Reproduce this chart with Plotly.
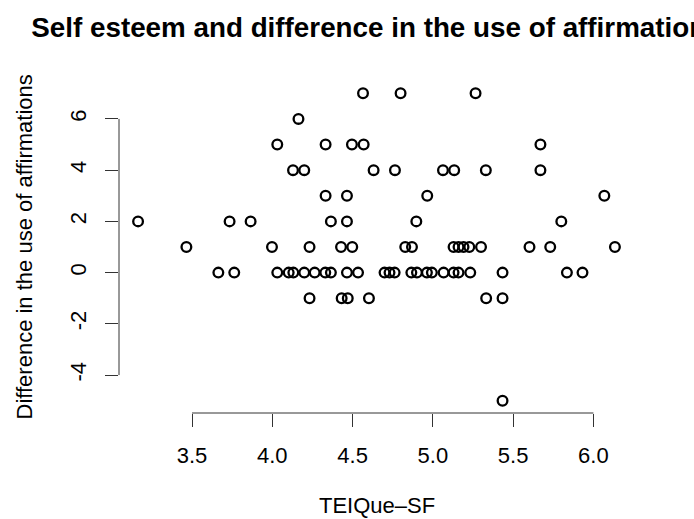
import plotly.graph_objects as go

# Data (TEIQue-SF score vs difference in affirmations)
diff_7 = [4.565, 4.799, 5.266]
diff_6 = [4.163]
diff_5 = [4.031, 4.332, 4.496, 4.569, 5.670]
diff_4 = [4.129, 4.199, 4.631, 4.764, 5.063, 5.133, 5.330, 5.670]
diff_3 = [4.332, 4.465, 4.965, 6.068]
diff_2 = [3.164, 3.734, 3.865, 4.365, 4.465, 4.897, 5.800]
diff_1 = [3.465, 3.998, 4.232, 4.428, 4.498, 4.828, 4.870, 5.129, 5.160,
          5.191, 5.227, 5.300, 5.602, 5.731, 6.134]
diff_0 = [3.664, 3.763, 4.031, 4.102, 4.131, 4.199, 4.264, 4.330, 4.365,
          4.465, 4.534, 4.699, 4.730, 4.762, 4.866, 4.901, 4.963, 4.994,
          5.067, 5.129, 5.160, 5.233, 5.434, 5.835, 5.932]
diff_m1 = [4.232, 4.432, 4.470, 4.602, 5.332, 5.434]
diff_m5 = [5.434]

groups = [(7, diff_7), (6, diff_6), (5, diff_5), (4, diff_4), (3, diff_3),
          (2, diff_2), (1, diff_1), (0, diff_0), (-1, diff_m1), (-5, diff_m5)]

teique = []
difference = []
for yv, xs in groups:
    for xv in xs:
        teique.append(xv)
        difference.append(yv)

x_ticks = [3.5, 4.0, 4.5, 5.0, 5.5, 6.0]
x_ticktext = ["3.5", "4.0", "4.5", "5.0", "5.5", "6.0"]
y_ticks = [-4, -2, 0, 2, 4, 6]
y_ticktext = ["-4", "-2", "0", "2", "4", "6"]

title_text = "Self esteem and difference in the use of affirmations"
xlab = "TEIQue\u2013SF"
ylab = "Difference in the use of affirmations"

# R-style 4% axis padding
xmin, xmax = min(teique), max(teique)
ymin, ymax = min(difference), max(difference)
xpad = 0.04 * (xmax - xmin)
ypad = 0.04 * (ymax - ymin)

FONT = "Liberation Sans, Arial, Helvetica, sans-serif"
AXC = "#333333"

fig = go.Figure()
fig.add_trace(go.Scatter(
    x=teique, y=difference, mode="markers",
    marker=dict(symbol="circle-open", size=9.7, color="black",
                line=dict(width=2.3, color="black")),
    showlegend=False, hoverinfo="x+y",
))

fig.update_layout(
    width=694, height=519,
    margin=dict(l=118.5, r=60.2, t=81.2, b=106, autoexpand=False),
    paper_bgcolor="white", plot_bgcolor="white",
    font=dict(family=FONT, color="black", size=22),
    title=dict(text="<b>" + title_text + "</b>", x=0.5, xref="paper",
               xanchor="center", y=1 - 27 / 519, yref="container",
               yanchor="middle", font=dict(size=27.8, family=FONT, color="black")),
    xaxis=dict(range=[xmin - xpad, xmax + xpad], showgrid=False, zeroline=False,
               showline=False, ticks="outside", ticklen=13, tickwidth=1,
               tickcolor=AXC, tickvals=x_ticks, ticktext=x_ticktext,
               ticklabelstandoff=10,
               tickfont=dict(size=22, family=FONT, color="black")),
    yaxis=dict(range=[ymin - ypad, ymax + ypad], showgrid=False, zeroline=False,
               showline=False, ticks="outside", ticklen=13, tickwidth=1,
               tickcolor=AXC, tickvals=y_ticks, ticktext=y_ticktext,
               tickangle=-90, ticklabelstandoff=10,
               tickfont=dict(size=22, family=FONT, color="black")),
    shapes=[
        dict(type="line", xref="x", yref="paper", x0=x_ticks[0], x1=x_ticks[-1],
             y0=0, y1=0, line=dict(color=AXC, width=1)),
        dict(type="line", xref="paper", yref="y", x0=0, x1=0,
             y0=y_ticks[0], y1=y_ticks[-1], line=dict(color=AXC, width=1)),
    ],
    annotations=[
        dict(text=xlab, xref="paper", yref="paper", x=0.5, y=0, yshift=-92,
             xanchor="center", yanchor="middle", showarrow=False,
             font=dict(size=22, family=FONT, color="black")),
        dict(text=ylab, xref="paper", yref="paper", x=0, y=0.5, xshift=-95.5,
             xanchor="center", yanchor="middle", textangle=-90, showarrow=False,
             font=dict(size=22, family=FONT, color="black")),
    ],
)

fig.write_html("out.html")
